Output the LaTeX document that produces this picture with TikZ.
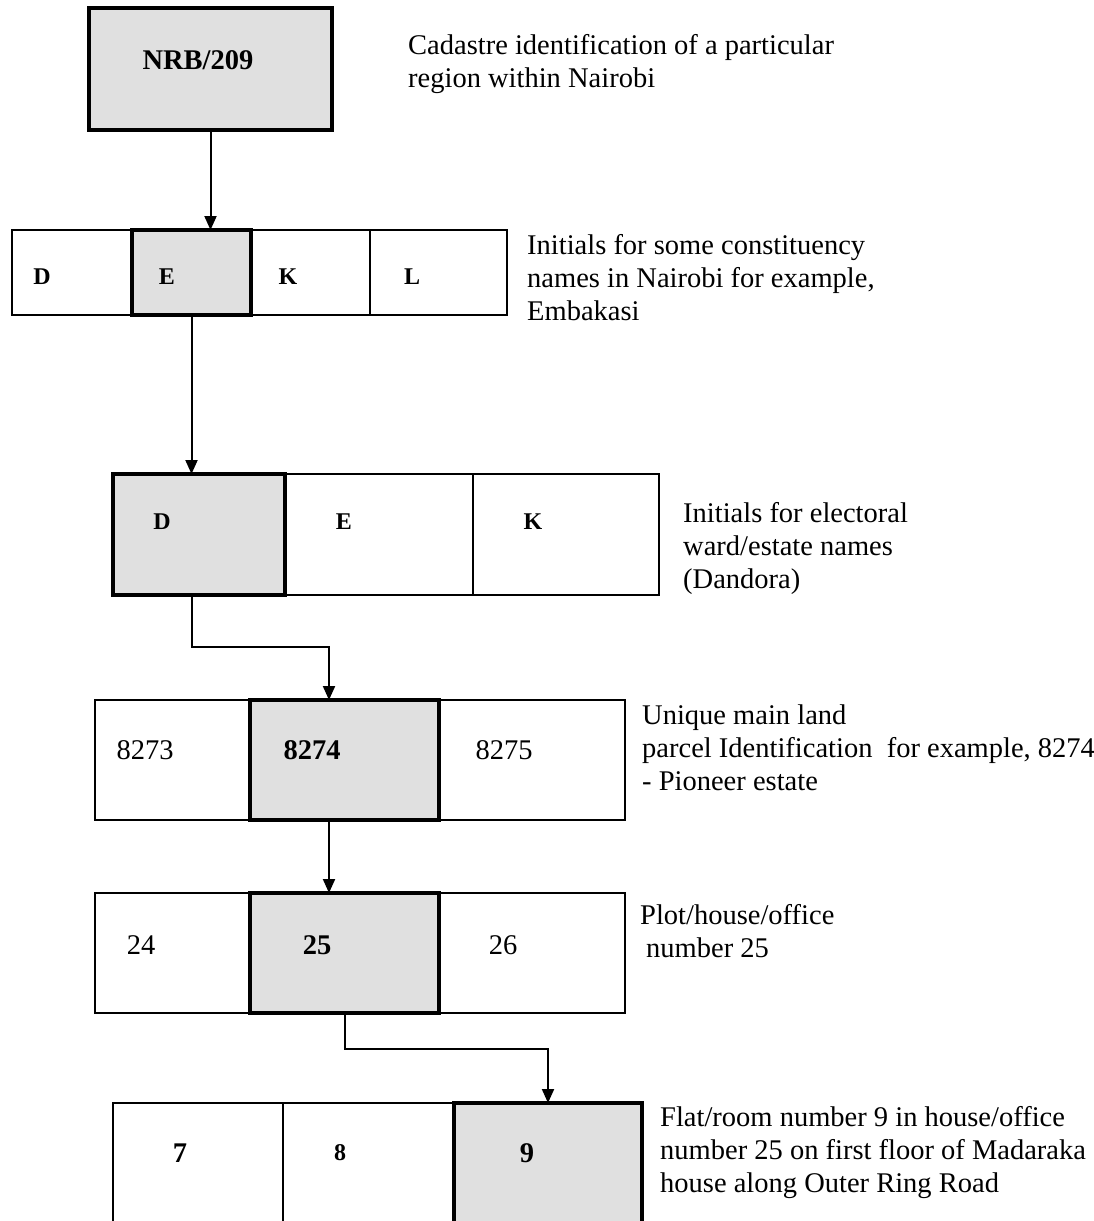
\documentclass[tikz,border=0pt]{standalone}
\usepackage{fontspec}
\setmainfont{Liberation Serif}
\usetikzlibrary{arrows.meta}
\begin{document}
\begin{tikzpicture}[x=1pt,y=-1pt,
  cellbox/.style={draw=black, line width=2pt, rectangle, anchor=north west, inner sep=0pt, outer sep=0pt},
  selbox/.style={cellbox, fill=black!12, line width=3.6pt},
  letter/.style={font=\fontsize{24}{26}\selectfont\bfseries, inner sep=0pt},
  numtxt/.style={font=\fontsize{28.5}{30}\selectfont, inner sep=0pt},
  boldnum/.style={font=\fontsize{28.5}{30}\selectfont\bfseries, inner sep=0pt},
  desc/.style={anchor=base west, inner sep=0pt, font=\fontsize{28.5}{33}\selectfont},
  arr/.style={draw=black, line width=2pt, -{Triangle[length=14pt,width=12pt]}}
]
\useasboundingbox (0,0) rectangle (1094,1221);
\clip (0,0) rectangle (1094,1221);
\fill[white] (0,0) rectangle (1094,1221);

% Row 1
\node[selbox, minimum width=243pt, minimum height=122pt] (nrb) at (89,8) {};
\node[boldnum] (tnrb) at (198,60) {NRB/209};

% Row 2
\node[cellbox, minimum width=120pt, minimum height=85pt] (r2d) at (12,230) {};
\node[cellbox, minimum width=119pt, minimum height=85pt] (r2k) at (251,230) {};
\node[cellbox, minimum width=137pt, minimum height=85pt] (r2l) at (370,230) {};
\node[selbox, minimum width=119pt, minimum height=85pt] (r2e) at (132,230) {};
\node[letter] (t2d) at (42,277) {D};
\node[letter] (t2e) at (167,277) {E};
\node[letter] (t2k) at (288,277) {K};
\node[letter] (t2l) at (412,277) {L};

% Row 3
\node[cellbox, minimum width=188pt, minimum height=121pt] (r3e) at (285,474) {};
\node[cellbox, minimum width=186pt, minimum height=121pt] (r3k) at (473,474) {};
\node[selbox, minimum width=172pt, minimum height=121pt] (r3d) at (113,474) {};
\node[letter] (t3d) at (162,522) {D};
\node[letter] (t3e) at (344,522) {E};
\node[letter] (t3k) at (533,522) {K};

% Row 4
\node[cellbox, minimum width=155pt, minimum height=120pt] (r4a) at (95,700) {};
\node[cellbox, minimum width=186pt, minimum height=120pt] (r4c) at (439,700) {};
\node[selbox, minimum width=189pt, minimum height=120pt] (r4s) at (250,700) {};
\node[numtxt] (t4a) at (145,750) {8273};
\node[boldnum] (t4s) at (312,750) {8274};
\node[numtxt] (t4c) at (504,750) {8275};

% Row 5
\node[cellbox, minimum width=155pt, minimum height=120pt] (r5a) at (95,893) {};
\node[cellbox, minimum width=186pt, minimum height=120pt] (r5c) at (439,893) {};
\node[selbox, minimum width=189pt, minimum height=120pt] (r5s) at (250,893) {};
\node[numtxt] (t5a) at (141,945) {24};
\node[boldnum] (t5s) at (317,945) {25};
\node[numtxt] (t5c) at (503,945) {26};

% Row 6
\node[cellbox, minimum width=170pt, minimum height=140pt] (r6a) at (113,1103) {};
\node[cellbox, minimum width=171pt, minimum height=140pt] (r6b) at (283,1103) {};
\node[selbox, minimum width=188pt, minimum height=140pt] (r6s) at (454,1103) {};
\node[boldnum] (t6a) at (180,1153) {7};
\node[letter] (t6b) at (340,1153) {8};
\node[boldnum] (t6s) at (527,1153) {9};

% Connectors
\draw[arr] (nrb.south) -- (nrb.south |- r2e.north);
\draw[arr] (r2e.south) -- (r2e.south |- r3d.north);
\draw[arr] (r2e.south |- r3d.south) -- ++(0,52) -| ([xshift=-15.5pt]r4s.north);
\draw[arr] ([xshift=-15.5pt]r4s.south) -- ([xshift=-15.5pt]r5s.north);
\draw[arr] (r5s.south) -- ++(0,36) -| (r6s.north);

% Descriptions
\node[desc] (d1) at (408,54) {\parbox[t]{600pt}{\raggedright Cadastre identification of a particular\\region within Nairobi}};
\node[desc] (d2) at (527,254) {\parbox[t]{600pt}{\raggedright Initials for some constituency\\names in Nairobi for example,\\Embakasi}};
\node[desc] (d3) at (683,522) {\parbox[t]{600pt}{\raggedright Initials for electoral\\ward/estate names\\(Dandora)}};
\node[desc] (d4) at (642,724) {\parbox[t]{600pt}{\raggedright Unique main land\\parcel Identification\ \ for example, 8274\\- Pioneer estate}};
\node[desc] (d5) at (640,924) {\parbox[t]{600pt}{\raggedright Plot/house/office\\\hspace*{6pt}number 25}};
\node[desc] (d6) at (660,1126) {\parbox[t]{600pt}{\raggedright Flat/room number 9 in house/office\\number 25 on first floor of Madaraka\\house along Outer Ring Road}};
\end{tikzpicture}
\end{document}
